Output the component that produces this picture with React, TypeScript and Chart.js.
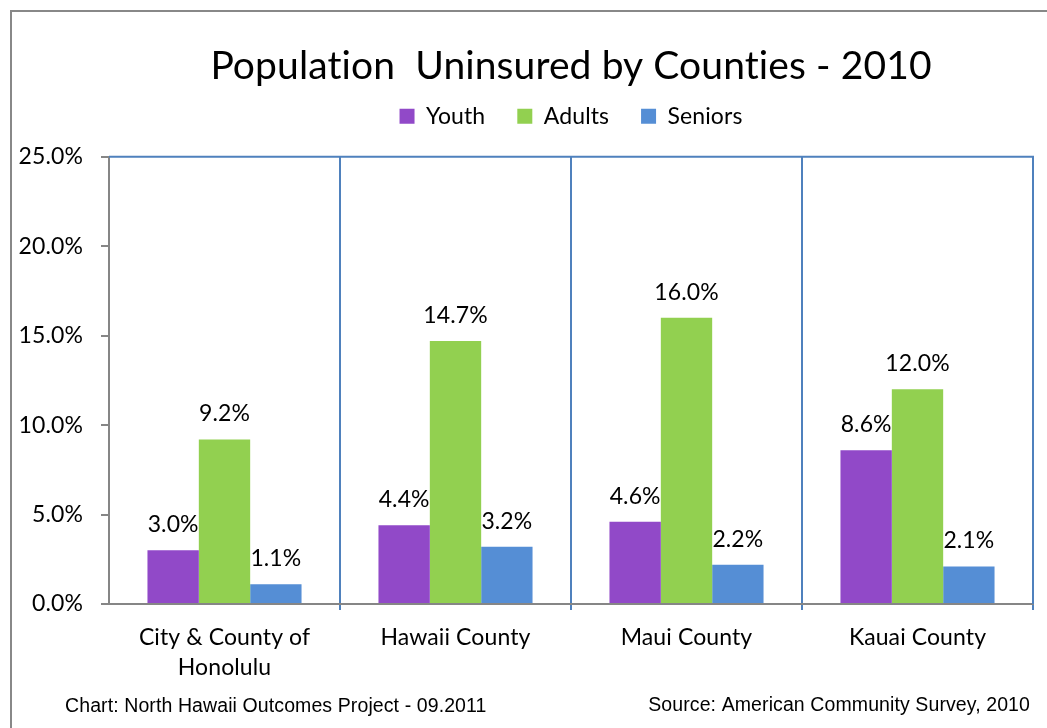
import React, { useEffect, useRef } from "react";
import { Chart, registerables } from "chart.js";

Chart.register(...registerables);

// ---- data ----
const categories: (string | string[])[] = [
  ["City & County of", "Honolulu"],
  "Hawaii County",
  "Maui County",
  "Kauai County",
];
const seriesNames = ["Youth", "Adults", "Seniors"];
const youth = [3.0, 4.4, 4.6, 8.6];
const adults = [9.2, 14.7, 16.0, 12.0];
const seniors = [1.1, 3.2, 2.2, 2.1];
const yMin = 0;
const yMax = 25;
const yStep = 5;
const titleText = "Population  Uninsured by Counties - 2010";
const footerLeft = "Chart: North Hawaii Outcomes Project - 09.2011";
const footerRight = "Source: American Community Survey, 2010";

// ---- styles ----
const colors = ["#9149C8", "#92D050", "#558ED5"];
const FONT = "Lato, 'Open Sans', sans-serif";
const TICK_SIZE = 23;
const TITLE_SIZE = 39;
const AXIS_GRAY = "#868686";
const SEP_BLUE = "#4F81BD";

const pct = (v: number) => v.toFixed(1) + "%";

const noLigatures = (chart: any) => {
  const ctx = chart.ctx;
  if (ctx && "letterSpacing" in ctx) ctx.letterSpacing = "0.1px";
};

const dataLabelPlugin = {
  id: "dataLabels",
  afterDatasetsDraw(chart: any) {
    const ctx = chart.ctx;
    ctx.save();
    ctx.font = `${TICK_SIZE}px ${FONT}`;
    ctx.fillStyle = "#000";
    ctx.textAlign = "center";
    ctx.textBaseline = "alphabetic";
    chart.data.datasets.forEach((ds: any, di: number) => {
      const meta = chart.getDatasetMeta(di);
      meta.data.forEach((el: any, i: number) => {
        ctx.fillText(pct(ds.data[i]), el.x, el.y - 18);
      });
    });
    ctx.restore();
  },
};

const framePlugin = {
  id: "frame",
  beforeLayout(chart: any) {
    noLigatures(chart);
  },
  beforeDraw(chart: any) {
    noLigatures(chart);
    const ctx = chart.ctx;
    ctx.save();
    ctx.strokeStyle = "#888888";
    ctx.lineWidth = 2;
    ctx.strokeRect(11, 11, chart.width + 20, chart.height + 20);
    ctx.font = "19.5px 'Liberation Sans', Arial, sans-serif";
    ctx.fillStyle = "#000";
    ctx.textBaseline = "middle";
    ctx.textAlign = "left";
    ctx.fillText(footerLeft, 65, 707);
    ctx.textAlign = "right";
    ctx.fillText(footerRight, chart.chartArea.right - 3, 706);
    ctx.restore();
  },
  beforeDatasetsDraw(chart: any) {
    const { ctx, chartArea } = chart;
    ctx.save();
    ctx.strokeStyle = SEP_BLUE;
    ctx.lineWidth = 2;
    ctx.beginPath();
    ctx.moveTo(chartArea.left, chartArea.top);
    ctx.lineTo(chartArea.right, chartArea.top);
    ctx.lineTo(chartArea.right, chartArea.bottom);
    ctx.stroke();
    ctx.restore();
  },
};

export default function App() {
  const ref = useRef<HTMLCanvasElement | null>(null);

  useEffect(() => {
    if (!ref.current) return;
    const series = [youth, adults, seniors];
    const chart = new Chart(ref.current, {
      type: "bar",
      data: {
        labels: categories,
        datasets: series.map((d, i) => ({
          label: seriesNames[i],
          data: d,
          backgroundColor: colors[i],
          borderWidth: 0,
          categoryPercentage: 0.667,
          barPercentage: 1.0,
          xAxisID: "x",
          yAxisID: "y",
        })),
      },
      options: {
        animation: false,
        responsive: true,
        maintainAspectRatio: false,
        layout: { padding: { left: 0, right: 14, top: 0, bottom: 0 } },
        plugins: {
          title: {
            display: true,
            text: titleText,
            fullSize: false,
            color: "#000",
            font: { family: FONT, size: TITLE_SIZE, weight: "normal" },
            padding: { top: 43, bottom: -17 },
          },
          legend: {
            display: true,
            position: "top",
            fullSize: false,
            labels: {
              color: "#000",
              font: { family: FONT, size: TICK_SIZE },
              boxWidth: 15,
              boxHeight: 15,
              padding: 32,
            },
          },
          tooltip: { enabled: false },
        },
        scales: {
          x: {
            type: "category",
            position: "bottom",
            grid: {
              display: true,
              offset: true,
              drawOnChartArea: true,
              drawTicks: true,
              tickLength: 6,
              lineWidth: 2,
              color: (c: any) =>
                c.index === 0 || c.index === categories.length ? "rgba(0,0,0,0)" : SEP_BLUE,
            },
            border: { display: true, color: AXIS_GRAY, width: 2 },
            ticks: {
              color: "#000",
              font: { family: FONT, size: TICK_SIZE, lineHeight: 30 / TICK_SIZE },
              padding: 13,
              maxRotation: 0,
              autoSkip: false,
            },
            afterFit: (s: any) => {
              s.height = 124;
            },
          },
          topGap: {
            type: "linear",
            position: "top",
            display: true,
            grid: { display: false },
            ticks: { display: false },
            border: { display: false },
            afterFit: (s: any) => {
              s.height = 19;
            },
          },
          y: {
            type: "linear",
            min: yMin,
            max: yMax,
            ticks: {
              stepSize: yStep,
              color: "#000",
              font: { family: FONT, size: TICK_SIZE },
              padding: 18,
              callback: (v: any) => pct(Number(v)),
            },
            grid: {
              display: true,
              drawOnChartArea: false,
              drawTicks: true,
              tickLength: 8,
              lineWidth: 2,
              color: AXIS_GRAY,
            },
            border: { display: true, color: AXIS_GRAY, width: 2 },
            afterFit: (s: any) => {
              s.width = 109;
            },
          },
        },
      } as any,
      plugins: [dataLabelPlugin, framePlugin],
    });
    return () => chart.destroy();
  }, []);

  return (
    <div style={{ position: "absolute", left: 0, top: 0, width: 1047, height: 728, background: "#fff" }}>
      <canvas ref={ref} />
    </div>
  );
}
